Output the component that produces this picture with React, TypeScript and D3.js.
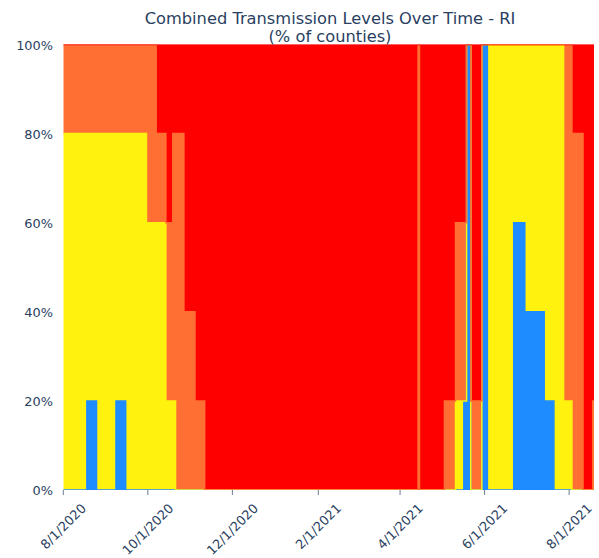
import React from "react";
import * as d3 from "d3";

// Dates on which the county distribution changes (values hold until the next date)
const changeDates = [
  "2020-08-01", "2020-08-18", "2020-08-25", "2020-09-08", "2020-09-15", "2020-09-30",
  "2020-10-07", "2020-10-14", "2020-10-19", "2020-10-21", "2020-10-27", "2020-11-04",
  "2020-11-11", "2021-04-14", "2021-04-15", "2021-05-03", "2021-05-11", "2021-05-17",
  "2021-05-19", "2021-05-22", "2021-05-30", "2021-06-03", "2021-06-22", "2021-06-30",
  "2021-07-14", "2021-07-21", "2021-07-28", "2021-08-03", "2021-08-11", "2021-08-18",
  "2021-08-19",
];
const lowPct = [0, 20, 0, 20, 0, 0, 0, 0, 0, 0, 0, 0, 0, 0, 0, 0, 0, 20, 100, 0, 100, 0, 60, 40, 20, 0, 0, 0, 0, 0, 0];
const moderatePct = [80, 60, 80, 60, 80, 60, 60, 20, 20, 0, 0, 0, 0, 0, 0, 0, 20, 0, 0, 0, 0, 100, 40, 60, 80, 100, 20, 0, 0, 0, 0];
const substantialPct = [20, 20, 20, 20, 20, 40, 20, 40, 60, 80, 40, 20, 0, 100, 0, 20, 40, 40, 0, 20, 0, 0, 0, 0, 0, 0, 80, 80, 0, 20, 20];
const highPct = [0, 0, 0, 0, 0, 0, 20, 40, 20, 20, 60, 80, 100, 0, 100, 80, 40, 40, 0, 80, 0, 0, 0, 0, 0, 0, 0, 20, 100, 80, 80];

const levelKeys = ["low", "moderate", "substantial", "high"];
const levelColors = ["#1E8CFF", "#FFF20F", "#FF6F33", "#FF0000"];

const yTicks = [0, 20, 40, 60, 80, 100];
const xTickDates = ["2020-08-01", "2020-10-01", "2020-12-01", "2021-02-01", "2021-04-01", "2021-06-01", "2021-08-01"];
const xTickLabels = ["8/1/2020", "10/1/2020", "12/1/2020", "2/1/2021", "4/1/2021", "6/1/2021", "8/1/2021"];

const titleLines = ["Combined Transmission Levels Over Time - RI", "(% of counties)"];

const W = 599;
const H = 558;
const PL = 63.3;
const PR = 594.1;
const PT = 44.5;
const PB = 490;
const TEXT = "#2a3f5f";
const FONT = "'DejaVu Sans', sans-serif";
const TICK_FS = 12.9;

export default function App() {
  const parse = d3.utcParse("%Y-%m-%d");
  const rows = changeDates.map((d, i) => ({
    date: parse(d) as Date,
    low: lowPct[i],
    moderate: moderatePct[i],
    substantial: substantialPct[i],
    high: highPct[i],
  }));

  const x = d3
    .scaleUtc()
    .domain(d3.extent(rows, (r) => r.date) as [Date, Date])
    .range([PL, PR]);
  const y = d3.scaleLinear().domain([0, 100]).range([PB, PT]);

  const series = d3.stack<any>().keys(levelKeys)(rows as any);

  const area = d3
    .area<any>()
    .x((d) => x(d.data.date))
    .y0((d) => y(d[0]))
    .y1((d) => y(d[1]))
    .curve(d3.curveStepAfter);
  const line = d3
    .line<any>()
    .x((d) => x(d.data.date))
    .y((d) => y(d[1]))
    .curve(d3.curveStepAfter);

  const labelLen = (s: string) => {
    let em = 0;
    for (const c of s) em += c === "/" ? 0.337 : 0.636;
    return em * TICK_FS;
  };

  return (
    <svg
      width={W}
      height={H}
      style={{ position: "absolute", left: 0, top: 0, background: "#fff" }}
      fontFamily={FONT}
    >
      <defs>
        <clipPath id="plotclip">
          <rect x={PL} y={PT} width={PR - PL} height={PB - PT} />
        </clipPath>
      </defs>

      <g clipPath="url(#plotclip)">
        {series.map((s, i) => (
          <path key={"a" + i} d={area(s as any) || ""} fill={levelColors[i]} stroke="none" />
        ))}
        {series.map((s, i) => (
          <path
            key={"l" + i}
            d={line(s as any) || ""}
            fill="none"
            stroke={levelColors[i]}
            strokeWidth={1.5}
          />
        ))}
      </g>

      {/* y axis labels */}
      {yTicks.map((t) => (
        <text
          key={"y" + t}
          x={53}
          y={y(t)}
          dy="0.42em"
          textAnchor="end"
          fontSize={TICK_FS}
          fill={TEXT}
        >
          {t}%
        </text>
      ))}

      {/* x axis ticks */}
      {xTickDates.map((d, i) => {
        const tx = x(parse(d) as Date);
        const L = labelLen(xTickLabels[i]);
        const cy = 505.9 + 0.354 * L;
        return (
          <g key={"x" + i}>
            <line x1={tx} x2={tx} y1={PB} y2={PB + 5} stroke="#6d7d91" strokeWidth={1} />
            <text
              transform={`translate(${tx},${cy}) rotate(-45)`}
              textAnchor="middle"
              dominantBaseline="central"
              fontSize={TICK_FS}
              fill={TEXT}
            >
              {xTickLabels[i]}
            </text>
          </g>
        );
      })}

      {/* title */}
      {titleLines.map((t, i) => (
        <text key={"t" + i} x={330} y={23.5 + i * 18} textAnchor="middle" fontSize={16.25} fill={TEXT}>
          {t}
        </text>
      ))}
    </svg>
  );
}
